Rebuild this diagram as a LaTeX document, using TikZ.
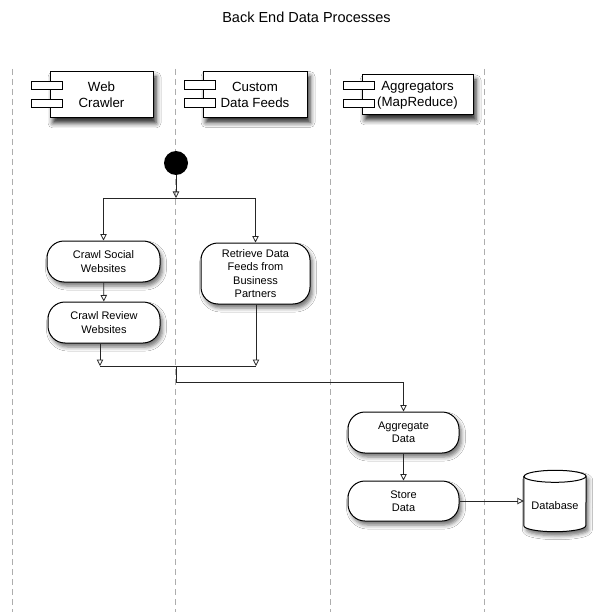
\documentclass[tikz,border=0pt]{standalone}
\usepackage{fontspec}
\setmainfont{Liberation Sans}
\usetikzlibrary{arrows.meta,shadows.blur}
\begin{document}
\begin{tikzpicture}[x=1pt,y=1pt,
  lane/.style={draw=black!32, line width=0.8pt, dash pattern=on 6pt off 4pt},
  compshadow/.style={blur shadow={shadow xshift=3pt, shadow yshift=-5pt, shadow blur radius=5pt, shadow opacity=85}},
  actshadow/.style={blur shadow={shadow xshift=2.5pt, shadow yshift=-4pt, shadow blur radius=4pt, shadow opacity=55}},
  comp/.style={draw=black, line width=1pt, fill=white, inner sep=0pt, align=center,
    font=\fontsize{13.3}{16}\selectfont, compshadow},
  port/.style={draw=black, line width=0.8pt, fill=white, minimum width=31pt, minimum height=8.5pt, inner sep=0pt},
  act/.style={draw=black, line width=1pt, fill=white, rounded corners=17pt, inner sep=0pt, align=center,
    font=\fontsize{11}{13.3}\selectfont, actshadow},
  wire/.style={draw=black!85, line width=0.8pt},
  flow/.style={wire, -{Triangle[open, length=6.5pt, width=6.5pt]}},
  ttl/.style={font=\fontsize{14.5}{17}\selectfont},
  lbl/.style={font=\fontsize{11}{13.3}\selectfont, inner sep=0pt}
]
\fill[white] (0,0) rectangle (599,-612);
\useasboundingbox (0,0) rectangle (599,-612);

% swimlane separators
\foreach \x in {12,175,330,484} \draw[lane] (\x,-69) -- (\x,-612);

% title
\node[ttl] (title) at (306.5,-17) {Back End Data Processes};

% components
\node[comp, minimum width=103pt, minimum height=46pt] (web) at (101.5,-95) {Web\\Crawler};
\node[comp, minimum width=104pt, minimum height=46pt] (cdf) at (255,-94.5) {Custom\\Data Feeds};
\node[comp, minimum width=111pt, minimum height=40pt] (agg) at (417.5,-95) {Aggregators\\(MapReduce)};
\foreach \n in {web,cdf,agg} {
  \node[port] (\n-p1) at ([xshift=-2.5pt,yshift=9.5pt]\n.west) {};
  \node[port] (\n-p2) at ([xshift=-2.5pt,yshift=-8.5pt]\n.west) {};
}

% start
\node[circle, fill=black, minimum size=24pt, inner sep=0pt] (start) at (176,-163) {};

% activities
\node[act, minimum width=113pt, minimum height=41pt] (social) at (103.5,-261.5) {Crawl Social\\Websites};
\node[act, minimum width=112pt, minimum height=41pt] (review) at (104,-322.5) {Crawl Review\\Websites};
\node[act, minimum width=109pt, minimum height=61pt] (retrieve) at (255.5,-273.5) {Retrieve Data\\Feeds from\\Business\\Partners};
\node[act, minimum width=111pt, minimum height=41pt] (aggregate) at (403.5,-432.5) {Aggregate\\Data};
\node[act, minimum width=111pt, minimum height=40pt] (store) at (403.5,-501) {Store\\Data};

% database
\node[minimum width=62pt, minimum height=61pt, inner sep=0pt] (db) at (555,-501) {};
\draw[line width=1pt, fill=white, actshadow]
  ([yshift=-6pt]db.north west) -- ([yshift=6pt]db.south west)
  arc[start angle=180, end angle=360, x radius=31pt, y radius=6pt]
  -- ([yshift=-6pt]db.north east)
  arc[start angle=0, end angle=180, x radius=31pt, y radius=6pt] -- cycle;
\draw[line width=1pt] ([yshift=-6pt]db.north west)
  arc[start angle=180, end angle=360, x radius=31pt, y radius=6pt];
\node[lbl] (dbtext) at (555,-506) {Database};

% connectors
\coordinate (fork) at (176,-198);
\coordinate (joinL) at (100,-366);
\coordinate (joinR) at (256,-366);
\coordinate (joinM) at (176,-366);
\coordinate (turn) at (176,-382);

\draw[flow] (start) -- (fork);
\draw[wire] (fork -| social) -- (fork -| retrieve);
\draw[flow] (fork -| social) -- (social);
\draw[flow] (fork -| retrieve) -- (retrieve);
\draw[flow] (social) -- (review);
\draw[flow] (review.south -| joinL) -- (joinL);
\draw[flow] (retrieve.south -| joinR) -- (joinR);
\draw[wire] (joinL) -- (joinR);
\draw[flow] (joinM) -- (turn) -| (aggregate.north);
\draw[flow] (aggregate) -- (store);
\draw[flow] (store) -- (db.west);
\end{tikzpicture}
\end{document}
